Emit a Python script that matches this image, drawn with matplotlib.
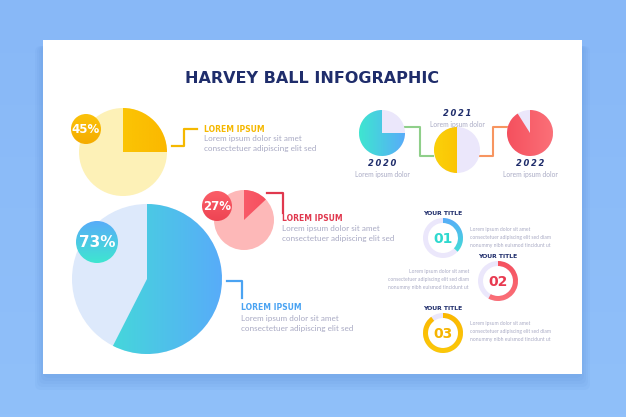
import numpy as np
import matplotlib
matplotlib.use("Agg")
import matplotlib.pyplot as plt
from matplotlib.patches import Wedge, Circle, Rectangle, FancyBboxPatch
from matplotlib.colors import LinearSegmentedColormap

# ---- data ----
big_labels = ["45%", "27%", "73%"]
big_fill = [0.25, 0.13, 0.575]          # drawn share of each harvey ball
big_heads = ["LOREM IPSUM", "LOREM IPSUM", "LOREM IPSUM"]
body = ["Lorem ipsum dolor sit amet", "consectetuer adipiscing elit sed"]

years = ["2020", "2021", "2022"]
year_fill = [0.75, 0.5, 0.91]
year_start = [0, 90, -90]               # start angle, clockwise from 3 o'clock
year_caption = "Lorem ipsum dolor"

step_ids = ["01", "02", "03"]
step_fill = [0.37, 0.58, 0.9]
step_title = "YOUR TITLE"
step_text = ["Lorem ipsum dolor sit amet",
             "consectetuer adipiscing elit sed diam",
             "nonummy nibh euismod tincidunt ut"]

NAVY = "#1f2d6b"
GREY = "#a9aac4"
LAV = "#ebe7fb"
BODY_FONT = ["Lato", "DejaVu Sans"]

fig = plt.figure(figsize=(6.26, 4.17), dpi=100)
ax = fig.add_axes([0, 0, 1, 1])
ax.set_xlim(0, 626)
ax.set_ylim(417, 0)
ax.axis("off")


def grad(patch, c1, c2, box, vertical=False, z=3):
    # fill a patch with a linear gradient
    cmap = LinearSegmentedColormap.from_list("g", [c1, c2])
    g = np.linspace(0, 1, 128)
    arr = g[:, None] if vertical else g[None, :]
    x0, x1, y0, y1 = box
    im = ax.imshow(arr, cmap=cmap, extent=(x0, x1, y1, y0), origin="upper",
                   aspect="auto", zorder=z, interpolation="bilinear")
    patch.set_visible(False)
    ax.add_patch(patch)
    im.set_clip_path(patch)
    return im


# background + card
grad(Rectangle((0, 0), 626, 417), "#88b8f7", "#90c0fa", (0, 626, 0, 417), vertical=True, z=0)
for i in range(5):
    ax.add_patch(FancyBboxPatch((43 - i * 2, 46), 539 + i * 4, 332 + i * 3,
                                boxstyle="round,pad=0,rounding_size=6",
                                fc="#3f78c8", ec="none", alpha=0.05, zorder=1))
ax.add_patch(Rectangle((43, 40), 539, 334, fc="white", ec="none", zorder=2))

ax.text(312, 78, "HARVEY BALL INFOGRAPHIC", ha="center", va="center",
        fontsize=11.5, fontweight="bold", color=NAVY, family="DejaVu Sans", zorder=5)

# ---- big harvey balls ----
centers = [(123, 152), (244, 220), (147, 279)]
radii = [44, 30, 75]
bases = ["#fdf1b7", "#fdb8b8", "#dde9fb"]
fills = [("#fbd10a", "#fbb800"), ("#fb6c78", "#f64a5a"), ("#3ee6d0", "#58acf9")]
for (cx, cy), r, base, (c1, c2), f in zip(centers, radii, bases, fills, big_fill):
    ax.add_patch(Circle((cx, cy), r, fc=base, ec="none", zorder=3))
    w = Wedge((cx, cy), r, -90, -90 + 360 * f)
    grad(w, c1, c2, (cx - r, cx + r, cy - r, cy + r), z=4)

badge_pos = [(86, 129, 15), (217, 206, 15), (97, 242, 21)]
badge_col = [("#fbc20a", "#f5ac00"), ("#fb5e68", "#ee4453"), ("#58acf9", "#3ee6d0")]
for (bx, by, br), (c1, c2), lab in zip(badge_pos, badge_col, big_labels):
    c = Circle((bx, by), br)
    grad(c, c1, c2, (bx - br, bx + br, by - br, by + br), vertical=True, z=5)
    ax.text(bx, by + 0.5, lab, ha="center", va="center", color="white",
            fontsize=8.5 if br < 20 else 11, fontweight="bold", zorder=6)

# connectors and captions
head_cols = ["#f5b800", "#e0384e", "#4aa3f2"]
ax.plot([172, 184, 184, 197], [146, 146, 129, 129], color=head_cols[0], lw=1.6, zorder=4)
ax.plot([267, 283, 283], [193, 193, 213], color=head_cols[1], lw=1.6, zorder=4)
ax.plot([227, 242, 242], [281, 281, 298], color=head_cols[2], lw=1.6, zorder=4)
cap_pos = [(204, 129), (282, 218), (241, 308)]
for (tx, ty), head, col in zip(cap_pos, big_heads, head_cols):
    ax.text(tx, ty, head, color=col, fontsize=5.5, fontweight="bold", va="center", zorder=5)
    for k, line in enumerate(body):
        ax.text(tx, ty + 10 + 10 * k, line, color=GREY, fontsize=5.9, va="center",
                family=BODY_FONT, zorder=5)

# ---- timeline ----
ax.plot([405, 420, 420, 433], [127, 127, 156, 156], color="#8fcf8a", lw=1.5, zorder=3)
ax.plot([480, 493, 493, 508], [156, 156, 127, 127], color="#f79560", lw=1.5, zorder=3)
ycent = [(382, 133), (457, 150), (530, 133)]
ycols = [("#3ee6d0", "#58acf9"), ("#fbd10a", "#fbb800"), ("#f5505e", "#fb7078")]
for (cx, cy), f, s, (c1, c2), yr in zip(ycent, year_fill, year_start, ycols, years):
    r = 23
    ax.add_patch(Circle((cx, cy), r, fc=LAV, ec="none", zorder=4))
    w = Wedge((cx, cy), r, s, s + 360 * f)
    grad(w, c1, c2, (cx - r, cx + r, cy - r, cy + r), z=5)
    ty = 113 if cy > 140 else 163
    ax.text(cx, ty, "\u2009".join(yr), ha="center", va="center", color=NAVY,
            fontsize=6, fontweight="bold", style="italic", zorder=5)
    ax.text(cx, ty + 11, year_caption, ha="center", va="center", color=GREY,
            fontsize=4.8, family=BODY_FONT, zorder=5)

# ---- numbered rings ----
scent = [(443, 238), (498, 281), (443, 333)]
scols = [("#58acf9", "#3ee6d0"), ("#f5505e", "#fb7078"), ("#fbb800", "#fbc80a")]
numcols = ["#2fd9cf", "#e83a50", "#f5b400"]
for i, ((cx, cy), f, (c1, c2)) in enumerate(zip(scent, step_fill, scols)):
    r = 20
    ax.add_patch(Wedge((cx, cy), r, 0, 360, width=5, fc=LAV, ec="none", zorder=4))
    w = Wedge((cx, cy), r, -90, -90 + 360 * f, width=5)
    grad(w, c1, c2, (cx - r, cx + r, cy - r, cy + r), vertical=True, z=5)
    ax.text(cx, cy + 0.5, step_ids[i], ha="center", va="center", color=numcols[i],
            fontsize=10, fontweight="bold", zorder=6)
    ax.text(cx, cy - 25, step_title, ha="center", va="center", color=NAVY,
            fontsize=4.4, fontweight="bold", zorder=6)
    if i == 1:
        tx, ha = 469, "right"
    else:
        tx, ha = 470, "left"
    for k, line in enumerate(step_text):
        ax.text(tx, cy - 9 + 8 * k, line, ha=ha, va="center", color=GREY,
                fontsize=3.6, family=BODY_FONT, zorder=6)

fig.savefig("out.png", dpi=100)
